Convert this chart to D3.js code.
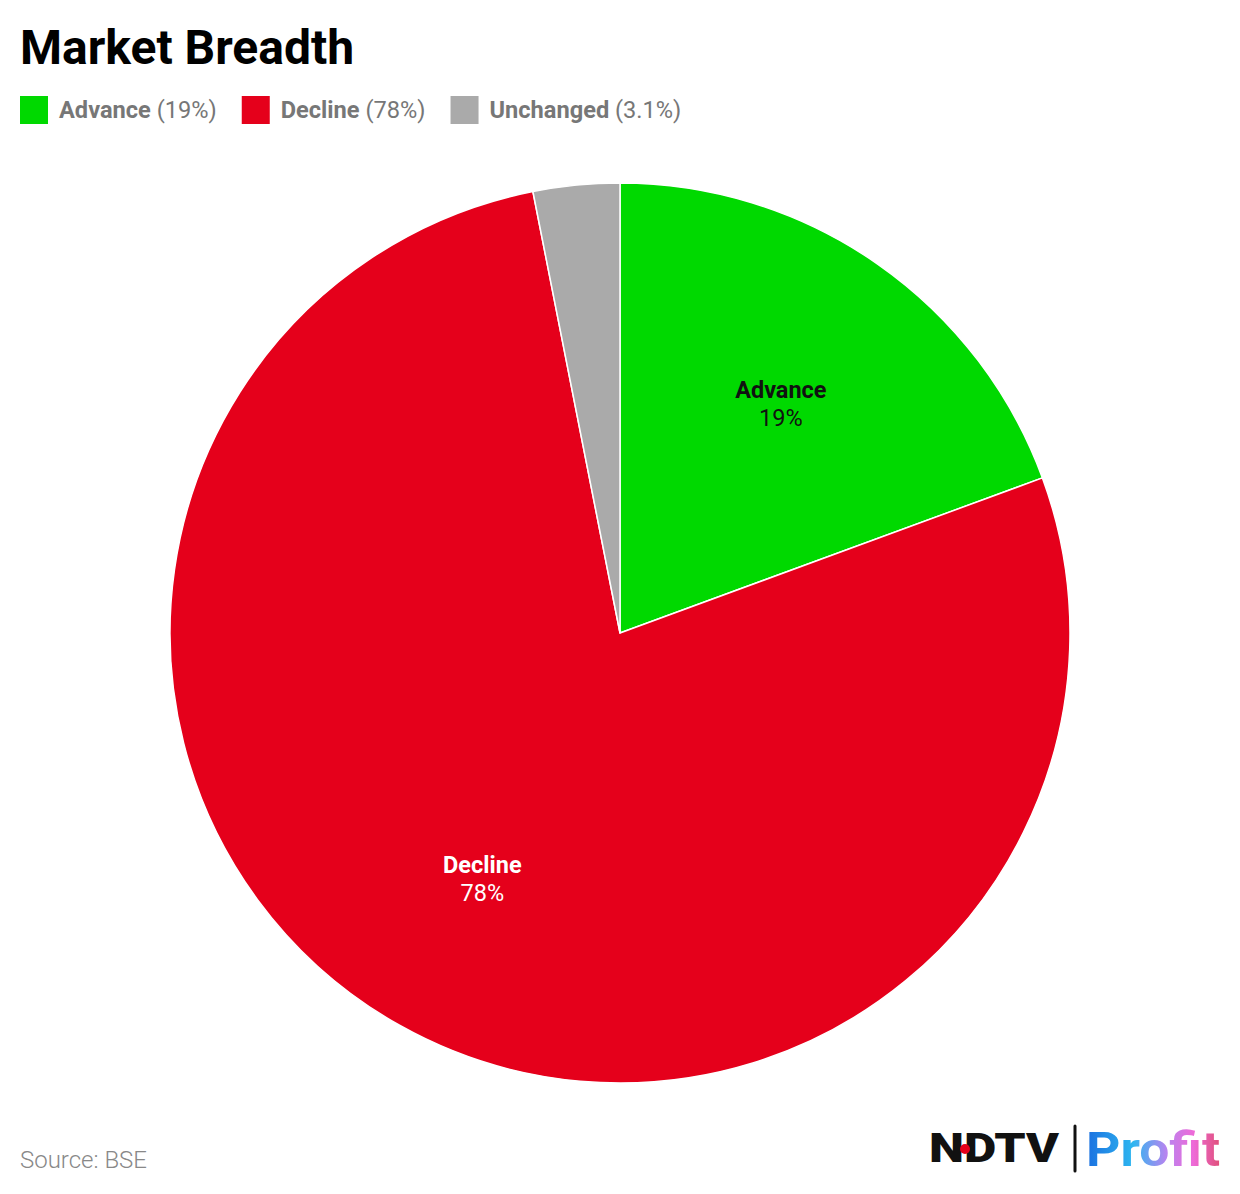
<!DOCTYPE html>
<html><head><meta charset="utf-8">
<script src="https://cdn.jsdelivr.net/npm/d3@7"></script>
<style>
body{margin:0;background:#fff;}
svg text{font-family:Roboto,"Noto Sans",sans-serif;}
</style></head>
<body><svg id="c" width="1240" height="1194"></svg>
<script>
const categories = ["Advance","Decline","Unchanged"];
const values = [19.4, 77.5, 3.1];
const colors = ["#00d900","#e5001b","#aaaaaa"];
const labelColors = ["#111","#fff",null];

const svg = d3.select("#c");
const fmt = d3.format(".2r");
const data = categories.map((c,i)=>({name:c,value:values[i],color:colors[i],lc:labelColors[i]}));

svg.append("text").attr("x",20).attr("y",64).attr("font-size",48).attr("font-weight",700).attr("fill","#000").text("Market Breadth");

// legend
let lx = 20;
const lg = svg.append("g");
data.forEach(d=>{
  lg.append("rect").attr("x",lx).attr("y",96).attr("width",28).attr("height",28).attr("fill",d.color);
  const t = lg.append("text").attr("x",lx+39).attr("y",118).attr("font-size",23.6).attr("fill","#777");
  t.append("tspan").attr("font-weight",700).text(d.name);
  t.append("tspan").attr("font-weight",400).text(" (" + fmt(d.value) + "%)");
  const w = t.node().getComputedTextLength();
  lx = lx + 39 + w + 25;
});

// pie
const cx = 620, cy = 633, R = 450;
const pie = d3.pie().sort(null).value(d=>d.value);
const arc = d3.arc().innerRadius(0).outerRadius(R);
const arcs = pie(data);
const g = svg.append("g").attr("transform",`translate(${cx},${cy})`);
g.selectAll("path").data(arcs).join("path").attr("d",arc).attr("fill",d=>d.data.color)
  .attr("stroke","#fff").attr("stroke-width",1.5).attr("stroke-linejoin","round");

const labelArc = d3.arc().innerRadius(281).outerRadius(281);
arcs.filter(d=>d.data.lc).forEach(d=>{
  const [x,y] = labelArc.centroid(d);
  const t = g.append("text").attr("text-anchor","middle").attr("font-size",23.5).attr("fill",d.data.lc);
  t.append("tspan").attr("x",x).attr("y",y-5).attr("font-weight",700).text(d.data.name);
  t.append("tspan").attr("x",x).attr("y",y+23).attr("font-weight",400).text(fmt(d.data.value)+"%");
});

// source
svg.append("text").attr("x",20).attr("y",1168).attr("font-size",24).attr("font-weight",300).attr("fill","#888").text("Source: BSE");

// logo
const logo = svg.append("g");
logo.append("text").attr("x",929).attr("y",1162).attr("font-size",40).attr("font-weight",900)
  .attr("font-family","'DejaVu Sans',sans-serif").attr("fill","#111").attr("textLength",130).attr("lengthAdjust","spacingAndGlyphs").text("NDTV");
logo.append("circle").attr("cx",965).attr("cy",1149).attr("r",5).attr("fill","#e5001b");
logo.append("line").attr("x1",1075).attr("x2",1075).attr("y1",1126).attr("y2",1171).attr("stroke","#111").attr("stroke-width",3).attr("stroke-linecap","round");
const defs = svg.append("defs");
const grad = defs.append("linearGradient").attr("id","pg").attr("x1","0").attr("x2","1").attr("y1","0").attr("y2","0");
[["0%","#1a6fe0"],["35%","#2eb6f0"],["60%","#b784f0"],["80%","#ee6ad8"],["100%","#e0507a"]].forEach(s=>grad.append("stop").attr("offset",s[0]).attr("stop-color",s[1]));
logo.append("text").attr("x",1086).attr("y",1166).attr("font-size",48).attr("font-weight",700).attr("fill","url(#pg)")
  .attr("textLength",134).attr("lengthAdjust","spacingAndGlyphs").text("Profit");
</script></body></html>
